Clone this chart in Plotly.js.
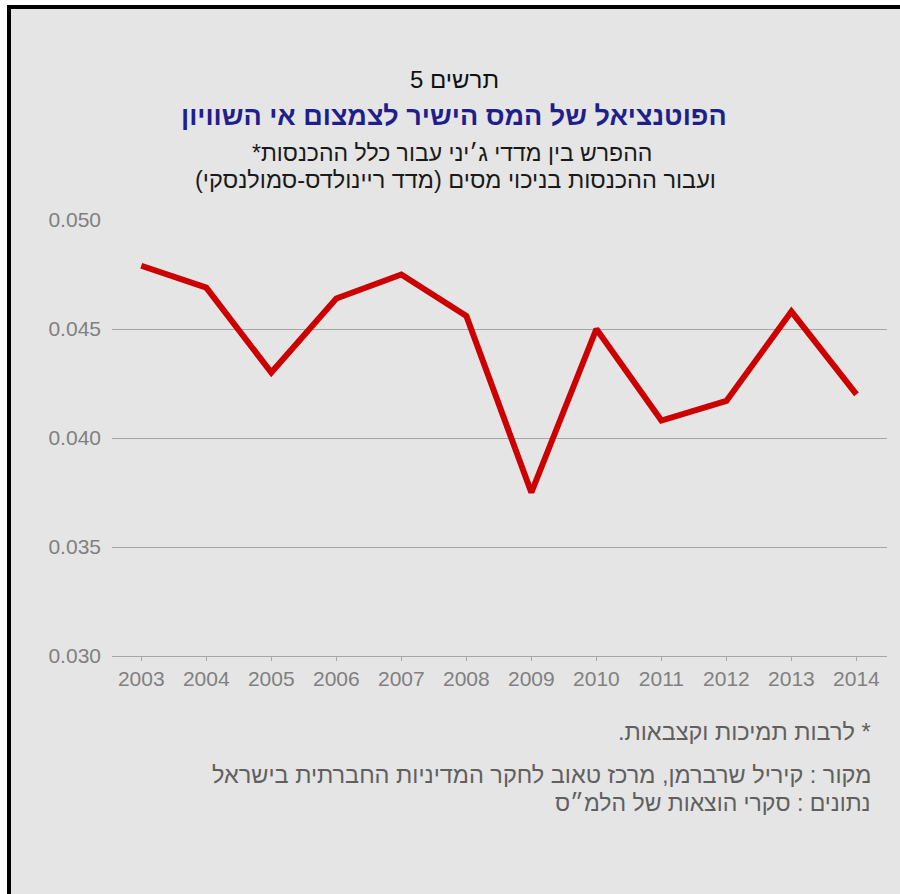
<!DOCTYPE html>
<html><head><meta charset="utf-8">
<script src="https://cdn.plot.ly/plotly-3.0.1.min.js"></script>
<style>html,body{margin:0;padding:0;background:#fff}#chart{width:900px;height:894px}</style>
</head><body><div id="chart"></div>
<script>
const years = ['2003','2004','2005','2006','2007','2008','2009','2010','2011','2012','2013','2014'];
const giniDiff = [0.0479,0.0469,0.0430,0.0464,0.0475,0.0456,0.0375,0.0450,0.0408,0.0417,0.0458,0.0420];
const yTicks = [0.030,0.035,0.040,0.045,0.050];
const figLabel = 'תרשים 5';
const titleText = 'הפוטנציאל של המס הישיר לצמצום אי השוויון';
const subtitle1 = 'ההפרש בין מדדי ג׳יני עבור כלל ההכנסות*';
const subtitle2 = 'ועבור ההכנסות בניכוי מסים (מדד ריינולדס-סמולנסקי)';
const footnote = '* לרבות תמיכות וקצבאות.';
const sourceText = 'מקור : קיריל שרברמן, מרכז טאוב לחקר המדיניות החברתית בישראל';
const dataText = 'נתונים : סקרי הוצאות של הלמ״ס';

const L=112, R=887, T=220, B=656;
const px = x => (x-L)/(R-L);
const py = y => (B-y)/(B-T);
const rtl = s => '\u200F' + s + '\u200F';
const FONT = 'Liberation Sans, Arial, DejaVu Sans, sans-serif';

function ann(text, x, y, size, color, xanchor) {
  return {text: rtl(text), x: px(x), y: py(y), xref:'paper', yref:'paper',
    xanchor: xanchor||'center', yanchor:'middle', showarrow:false,
    font:{family:FONT, size:size, color:color}};
}

const trace = {
  x: years, y: giniDiff, type:'scatter', mode:'lines',
  line:{color:'#cc0000', width:6}, cliponaxis:false, hoverinfo:'skip'
};

const layout = {
  width:900, height:894,
  margin:{l:L, r:900-R, t:T, b:894-B, pad:0},
  paper_bgcolor:'#e5e5e5', plot_bgcolor:'#e5e5e5',
  showlegend:false,
  font:{family:FONT},
  xaxis:{type:'category', range:[-0.45, 11.47], showline:true, linecolor:'#a6a6a6', linewidth:1,
    ticks:'outside', ticklen:4, tickcolor:'#a6a6a6', showgrid:false, zeroline:false,
    tickfont:{family:FONT, size:21, color:'#808080'}},
  yaxis:{range:[0.030,0.050], tickvals:yTicks, tickformat:'.3f', showgrid:true, gridcolor:'#a6a6a6',
    gridwidth:1, zeroline:false, showline:false, ticks:'', ticklabelstandoff:10,
    tickfont:{family:FONT, size:21, color:'#808080'}},
  annotations:[
    ann(figLabel, 454, 79, 24, '#111111'),
    ann('<b>'+titleText+'</b>', 454, 116, 27, '#1f1f8c'),
    ann(subtitle1, 452, 153, 23, '#1a1a1a'),
    ann(subtitle2, 455, 180, 23.5, '#1a1a1a'),
    ann(footnote, 873, 732, 23.5, '#606060', 'right'),
    ann(sourceText, 873, 775, 23.5, '#606060', 'right'),
    ann(dataText, 873, 803, 23, '#606060', 'right')
  ],
  shapes:[
    {type:'rect', xref:'paper', yref:'paper', x0:px(0), x1:px(7), y0:py(0), y1:py(894), fillcolor:'#ffffff', line:{width:0}, layer:'below'},
    {type:'rect', xref:'paper', yref:'paper', x0:px(0), x1:px(900), y0:py(0), y1:py(5), fillcolor:'#ffffff', line:{width:0}, layer:'below'},
    {type:'rect', xref:'paper', yref:'paper', x0:px(7), x1:px(11), y0:py(5), y1:py(894), fillcolor:'#000000', line:{width:0}, layer:'above'},
    {type:'rect', xref:'paper', yref:'paper', x0:px(7), x1:px(900), y0:py(5), y1:py(9), fillcolor:'#000000', line:{width:0}, layer:'above'}
  ]
};

Plotly.newPlot('chart', [trace], layout, {staticPlot:true, displayModeBar:false});
</script>
</body></html>
